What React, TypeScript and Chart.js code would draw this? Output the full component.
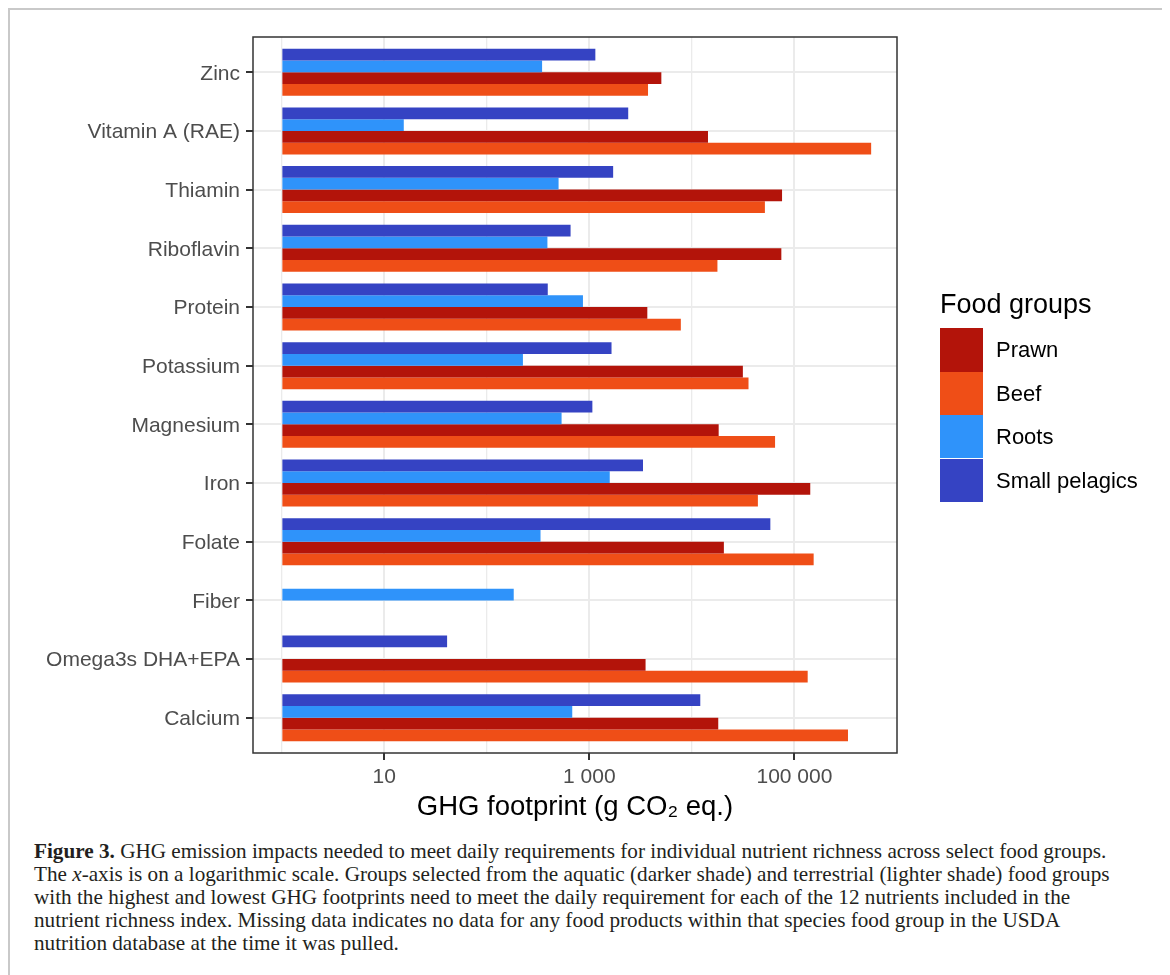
import React, { useEffect, useRef } from 'react';
import { Chart, registerables } from 'chart.js';

Chart.register(...registerables);

// ---------- data ----------
const categories = [
  'Zinc',
  'Vitamin A (RAE)',
  'Thiamin',
  'Riboflavin',
  'Protein',
  'Potassium',
  'Magnesium',
  'Iron',
  'Folate',
  'Fiber',
  'Omega3s DHA+EPA',
  'Calcium',
];

const smallPelagics = [1144, 2393, 1706, 656, 393, 1645, 1070, 3335, 58200, null, 41, 12070];
const roots = [346, 15.5, 501, 390, 866, 225, 536, 1581, 334, 183, null, 681];
const prawn = [5035, 14350, 75700, 74500, 3675, 31400, 18240, 142600, 20500, null, 3533, 18070];
const beef = [3733, 559700, 51500, 17740, 7800, 35650, 64700, 44000, 153900, null, 134600, 332700];

const seriesNames = ['Small pelagics', 'Roots', 'Prawn', 'Beef'];
const seriesValues = [smallPelagics, roots, prawn, beef];
const seriesColors = ['#3543C3', '#2F93FA', '#B3140A', '#EF4E17'];
const legendOrder = ['Prawn', 'Beef', 'Roots', 'Small pelagics'];

const xGridValues = [1, 10, 100, 1000, 10000, 100000];
const xMajorValues = [10, 1000, 100000];
const xTickLabels: Record<number, string> = { 10: '10', 1000: '1 000', 100000: '100 000' };
const xTitle = 'GHG footprint (g CO\u2082 eq.)';
const legendTitle = 'Food groups';

const SANS = "'Liberation Sans', Arial, Helvetica, sans-serif";
const SERIF = "'Liberation Serif', 'Times New Roman', serif";

const panelBorder = {
  id: 'panelBorder',
  afterDraw(chart: any) {
    const { ctx, chartArea: a } = chart;
    ctx.save();
    ctx.strokeStyle = '#333333';
    ctx.lineWidth = 1.5;
    ctx.strokeRect(a.left, a.top, a.right - a.left, a.bottom - a.top);
    ctx.restore();
  },
};

function ChartCanvas() {
  const ref = useRef<HTMLCanvasElement | null>(null);
  useEffect(() => {
    if (!ref.current) return;
    const isMajor = (v: number) => xMajorValues.includes(v);
    const chart = new Chart(ref.current, {
      type: 'bar',
      data: {
        datasets: seriesNames.map((name, k) => ({
          label: name,
          data: seriesValues[k]
            .map((v, i) => (v == null ? null : { x: v, y: i }))
            .filter((p) => p !== null) as any,
          backgroundColor: seriesColors[k],
          borderWidth: 0,
          base: 1,
          categoryPercentage: 0.8,
          barPercentage: 1.0,
        })),
      },
      options: {
        indexAxis: 'y',
        animation: false,
        responsive: false,
        maintainAspectRatio: false,
        layout: { padding: { left: 0, top: 27, right: 263, bottom: 0 } },
        plugins: { legend: { display: false }, tooltip: { enabled: false } },
        scales: {
          x: {
            type: 'logarithmic',
            position: 'bottom',
            min: Math.pow(10, -0.28),
            max: Math.pow(10, 6.0),
            afterBuildTicks: (s: any) => {
              s.ticks = xGridValues.map((v) => ({ value: v }));
            },
            afterFit: (s: any) => {
              s.height = 72;
            },
            ticks: {
              autoSkip: false,
              maxRotation: 0,
              padding: 5,
              color: '#4D4D4D',
              font: { family: SANS, size: 21 },
              callback: (v: any) => xTickLabels[Number(v)] ?? '',
            },
            grid: {
              color: '#EBEBEB',
              lineWidth: (c: any) => (c.tick && isMajor(c.tick.value) ? 2 : 1.3),
              drawTicks: true,
              tickLength: 7,
              tickWidth: 2,
              tickColor: (c: any) => (c.tick && isMajor(c.tick.value) ? '#333333' : 'rgba(0,0,0,0)'),
            },
            border: { display: false },
            title: {
              display: true,
              text: xTitle,
              color: '#000000',
              font: { family: SANS, size: 27.5 },
              padding: { top: 0, bottom: 1 },
            },
          } as any,
          y: {
            type: 'linear',
            min: -0.6,
            max: 11.6,
            reverse: true,
            offset: false,
            afterBuildTicks: (s: any) => {
              s.ticks = categories.map((_, i) => ({ value: i }));
            },
            afterFit: (s: any) => {
              s.width = 243;
            },
            ticks: {
              autoSkip: false,
              padding: 6,
              labelOffset: 1.5,
              color: '#4D4D4D',
              font: { family: SANS, size: 21 },
              callback: (v: any) => categories[Number(v)] ?? '',
            },
            grid: {
              offset: false,
              color: '#EBEBEB',
              lineWidth: 2,
              drawTicks: true,
              tickLength: 7,
              tickWidth: 2,
              tickColor: '#333333',
            },
            border: { display: false },
          } as any,
        },
      },
      plugins: [panelBorder],
    });
    return () => chart.destroy();
  }, []);
  return (
    <canvas
      ref={ref}
      width={1150}
      height={815}
      style={{ position: 'absolute', left: 0, top: 0, width: 1150, height: 815 }}
    />
  );
}

const captionLines: React.ReactNode[] = [
  <>
    <b>Figure 3.</b> GHG emission impacts needed to meet daily requirements for individual nutrient richness across select food groups.
  </>,
  <>
    The <i>x</i>-axis is on a logarithmic scale. Groups selected from the aquatic (darker shade) and terrestrial (lighter shade) food groups
  </>,
  <>with the highest and lowest GHG footprints need to meet the daily requirement for each of the 12 nutrients included in the</>,
  <>nutrient richness index. Missing data indicates no data for any food products within that species food group in the USDA</>,
  <>nutrition database at the time it was pulled.</>,
];

export default function App() {
  const keyH = 43.4;
  return (
    <div
      style={{
        position: 'relative',
        width: 1157,
        height: 975,
        boxSizing: 'border-box',
        border: '2px solid #C9C9C9',
        borderBottom: 'none',
        background: '#FFFFFF',
      }}
    >
      <style>{`body{overflow:hidden}`}</style>
      <ChartCanvas />
      {/* legend */}
      <div
        style={{
          position: 'absolute',
          left: 930,
          top: 281,
          fontFamily: SANS,
          fontSize: 27,
          lineHeight: '27px',
          color: '#000',
          whiteSpace: 'nowrap',
        }}
      >
        {legendTitle}
      </div>
      {legendOrder.map((name, i) => (
        <React.Fragment key={name}>
          <div
            style={{
              position: 'absolute',
              left: 929.5,
              top: 318.3 + i * keyH,
              width: 43,
              height: keyH,
              background: seriesColors[seriesNames.indexOf(name)],
            }}
          />
          <div
            style={{
              position: 'absolute',
              left: 986,
              top: 318.3 + i * keyH,
              height: keyH,
              lineHeight: `${keyH}px`,
              fontFamily: SANS,
              fontSize: 22,
              color: '#000',
              whiteSpace: 'nowrap',
            }}
          >
            {name}
          </div>
        </React.Fragment>
      ))}
      {/* caption */}
      <div
        style={{
          position: 'absolute',
          left: 24,
          top: 830,
          fontFamily: SERIF,
          fontSize: 21.2,
          lineHeight: '23px',
          color: '#231F20',
        }}
      >
        {captionLines.map((l, i) => (
          <div key={i} style={{ whiteSpace: 'nowrap' }}>
            {l}
          </div>
        ))}
      </div>
    </div>
  );
}
